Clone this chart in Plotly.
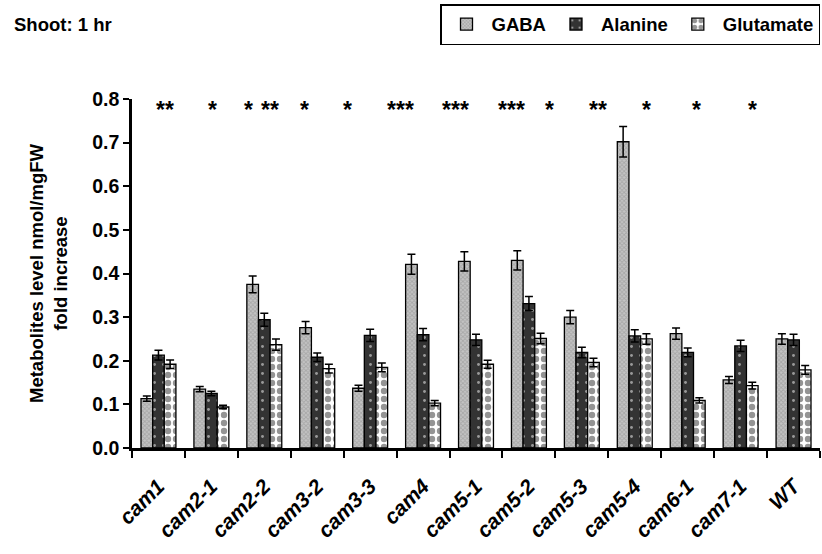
import plotly.graph_objects as go

categories = ["cam1", "cam2-1", "cam2-2", "cam3-2", "cam3-3", "cam4", "cam5-1",
              "cam5-2", "cam5-3", "cam5-4", "cam6-1", "cam7-1", "WT"]
gaba = [0.113, 0.135, 0.375, 0.276, 0.137, 0.421, 0.428, 0.430, 0.300, 0.702, 0.262, 0.156, 0.250]
gaba_err = [0.006, 0.006, 0.019, 0.014, 0.007, 0.023, 0.022, 0.022, 0.015, 0.035, 0.013, 0.008, 0.012]
alanine = [0.213, 0.125, 0.294, 0.208, 0.258, 0.260, 0.248, 0.331, 0.219, 0.257, 0.219, 0.234, 0.248]
alanine_err = [0.011, 0.005, 0.015, 0.010, 0.014, 0.014, 0.013, 0.016, 0.012, 0.014, 0.010, 0.013, 0.013]
glutamate = [0.192, 0.094, 0.237, 0.182, 0.185, 0.103, 0.192, 0.251, 0.196, 0.250, 0.109, 0.143, 0.179]
glutamate_err = [0.010, 0.004, 0.013, 0.010, 0.010, 0.006, 0.009, 0.012, 0.010, 0.012, 0.006, 0.008, 0.010]

star_labels = ["**", "*", "*", "**", "*", "*", "***", "***", "***", "*", "**", "*", "*", "*"]
star_px = [165, 212, 248, 270, 304, 347, 400, 455, 511, 549, 598, 646, 696, 752]
star_level = 0.775

FONT = "Arial, Liberation Sans, sans-serif"
X0, X1 = 131.7, 820.0
Y_TOP, Y_BOT = 99.0, 448.0
cat_w = (X1 - X0) / len(categories)
ph = Y_BOT - Y_TOP

fig = go.Figure()

series = [
    ("GABA", gaba, gaba_err, dict(shape="x", bgcolor="#c4c4c4", fgcolor="#8a8a8a", size=3, solidity=0.5)),
    ("Alanine", alanine, alanine_err, dict(shape=".", bgcolor="#333333", fgcolor="#ffffff", size=9, solidity=0.08)),
    ("Glutamate", glutamate, glutamate_err, dict(shape=".", bgcolor="#ffffff", fgcolor="#2a2a2a", size=8, solidity=0.5)),
]
for name, vals, errs, pat in series:
    fig.add_trace(go.Bar(
        name=name, x=categories, y=vals,
        marker=dict(color=pat["bgcolor"], pattern=pat, line=dict(color="black", width=1.3)),
        error_y=dict(type="data", array=errs, color="black", thickness=1.5, width=4),
    ))

for lbl, px in zip(star_labels, star_px):
    fig.add_annotation(x=(px - X0) / cat_w - 0.5, y=star_level, xref="x", yref="y",
                       text="<b>" + lbl + "</b>", showarrow=False,
                       font=dict(family=FONT, size=23, color="black"))

fig.add_annotation(xref="paper", yref="paper",
                   x=-(X0 - 12) / (X1 - X0), y=1 + (Y_TOP - 24) / ph,
                   xanchor="left", yanchor="middle", showarrow=False,
                   text="<b>Shoot: 1 hr</b>",
                   font=dict(family=FONT, size=18.5, color="black"))

fig.update_layout(
    width=822, height=554,
    margin=dict(l=X0, r=822 - X1, t=Y_TOP, b=554 - Y_BOT),
    paper_bgcolor="white", plot_bgcolor="white",
    barmode="group", bargap=0.34, bargroupgap=0.0,
    font=dict(family=FONT, size=18, color="black"),
    legend=dict(orientation="h", x=1.0, xanchor="right", y=1 + (Y_TOP - 4) / ph, yanchor="top",
                bordercolor="black", borderwidth=1.5, bgcolor="white",
                font=dict(family=FONT, size=18.5, weight="bold"),
                itemwidth=40, tracegroupgap=0),
    showlegend=True,
)
fig.update_yaxes(range=[0, 0.8], dtick=0.1, tickformat=".1f",
                 showline=True, linecolor="black", linewidth=2.5,
                 ticks="outside", ticklen=6, tickwidth=2, tickcolor="black",
                 showgrid=False, zeroline=False,
                 tickfont=dict(family=FONT, size=19.5, weight="bold"),
                 title=dict(text="Metabolites level nmol/mgFW<br>fold increase",
                            font=dict(family=FONT, size=18.5, weight="bold"), standoff=20))
fig.update_xaxes(showline=True, linecolor="black", linewidth=2.5,
                 ticks="outside", ticklen=7, tickwidth=2, tickcolor="black",
                 tickson="boundaries", tickangle=-45, ticklabelstandoff=15,
                 tickfont=dict(family=FONT, size=21, weight="bold", style="italic"))

fig.write_html("out.html")
